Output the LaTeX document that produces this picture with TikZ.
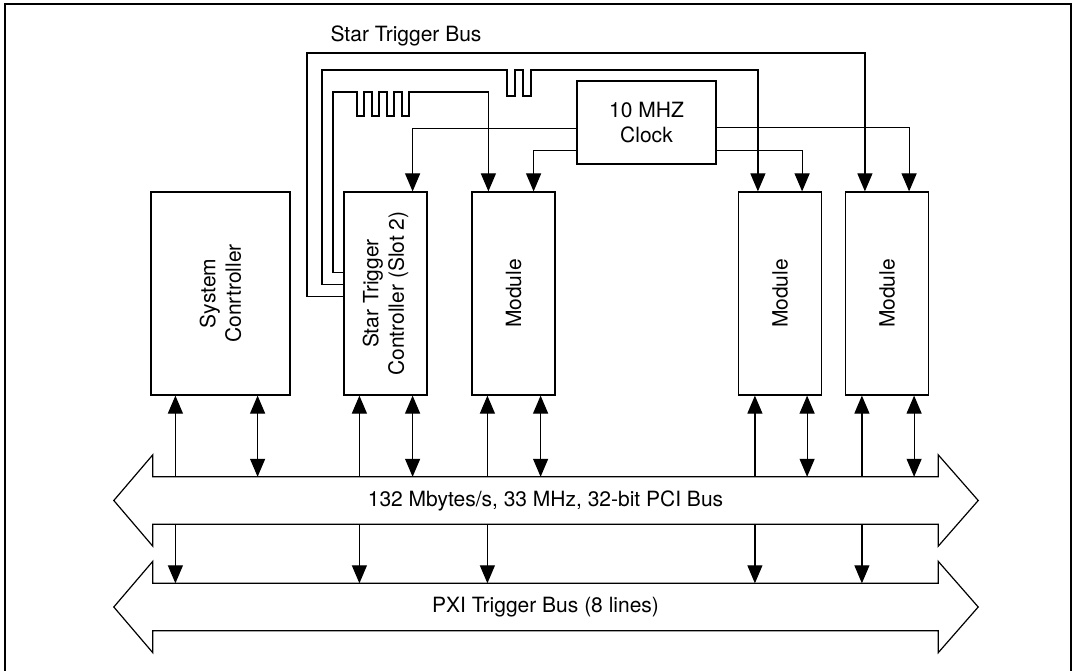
\documentclass[tikz,border=0pt]{standalone}
\usepackage{fontspec}
\setmainfont{TeX Gyre Heros}
\usetikzlibrary{arrows.meta}
\tikzstyle{unit} = [rectangle, draw=black, line width=1.2pt, minimum width=83pt, minimum height=203pt, inner sep=0pt]
\tikzstyle{boxtext} = [rotate=90, align=center]
\tikzstyle{bus} = [rectangle, minimum width=785pt, minimum height=47pt, inner sep=0pt]
\tikzstyle{wire} = [line width=1.2pt]
\tikzstyle{arrow} = [line width=1.2pt, -{Triangle[length=18pt,width=15pt]}]
\tikzstyle{darrow} = [line width=1.2pt, {Triangle[length=18pt,width=15pt]}-{Triangle[length=18pt,width=15pt]}]
\newcommand{\drawbus}[1]{%
  \draw [wire] (#1.north west) -- ([yshift=22pt]#1.north west) -- ([xshift=-39pt]#1.west)
    -- ([yshift=-22pt]#1.south west) -- (#1.south west) -- (#1.south east)
    -- ([yshift=-22pt]#1.south east) -- ([xshift=40pt]#1.east)
    -- ([yshift=22pt]#1.north east) -- (#1.north east) -- cycle;}
\begin{document}
\begin{tikzpicture}[x=1pt, y=-1pt, font=\fontsize{21}{25.5}\selectfont]
\useasboundingbox (0,0) rectangle (1075,671);

%% FRAME
\draw [line width=2.5pt] (5,671) -- (5,4) -- (1071,4) -- (1071,671);

%% NODES
\node (sysc) [unit, minimum width=139pt] at (220.5,293.5) {};
\node (stc) [unit] at (385.5,293.5) {};
\node (mod1) [unit] at (513.5,293.5) {};
\node (mod2) [unit] at (780,293.5) {};
\node (mod3) [unit] at (887,293.5) {};
\node (clock) [unit, minimum width=139pt, minimum height=83pt, align=center] at (646.5,122.5) {10 MHZ\\Clock};
\node (pci) [bus] at (545.5,500.5) {132 Mbytes/s, 33 MHz, 32-bit PCI Bus};
\node (pxi) [bus] at (545.5,607) {PXI Trigger Bus (8 lines)};
\node (stb) at (406,36) {Star Trigger Bus};

\node [boxtext] at (sysc) {System\\Conrtroller};
\node [boxtext] at (stc) {Star Trigger\\Controller (Slot 2)};
\node [boxtext] at (mod1) {Module};
\node [boxtext] at (mod2) {Module};
\node [boxtext] at (mod3) {Module};

%% BUSES
\drawbus{pci}
\drawbus{pxi}

%% BUS ARROWS
\foreach \nm/\da/\db in {sysc/25/33, stc/16/15, mod1/16/15, mod2/17/15, mod3/17/15} {
  \coordinate (\nm-t) at ([xshift=\da pt]\nm.south west);
  \coordinate (\nm-d) at ([xshift=-\db pt]\nm.south east);
  \draw [arrow] (\nm-t |- pci.north) -- (\nm-t);
  \draw [darrow] (\nm-d |- pci.north) -- (\nm-d);
  \draw [arrow] (\nm-t |- pci.south) -- (\nm-t |- pxi.north);
}

%% STAR TRIGGER LINES
\draw [arrow] ([yshift=-105pt]stc.north west) -| (307,53) -| ([xshift=20pt]mod3.north west);
\draw [arrow] ([yshift=-93pt]stc.north west) -| (322,70) -- (507,70)
  \foreach \i in {1,2} { -- ++(0,26) -- ++(8,0) -- ++(0,-26) -- ++(8,0) }
  -| ([xshift=20pt]mod2.north west);
\draw [arrow] ([yshift=-81pt]stc.north west) -| (333,92) -- (357,92)
  \foreach \i in {1,...,4} { -- ++(0,24) -- ++(7,0) -- ++(0,-24) -- ++(8,0) }
  -| ([xshift=17pt]mod1.north west);

%% CLOCK LINES
\draw [arrow] ([yshift=-48pt]clock.north west) -| ([xshift=-15pt]stc.north east);
\draw [arrow] ([yshift=-70pt]clock.north west) -| ([xshift=-22pt]mod1.north east);
\draw [arrow] ([yshift=-47pt]clock.north east) -| ([xshift=-20pt]mod3.north east);
\draw [arrow] ([yshift=-70pt]clock.north east) -| ([xshift=-20pt]mod2.north east);
\end{tikzpicture}
\end{document}
